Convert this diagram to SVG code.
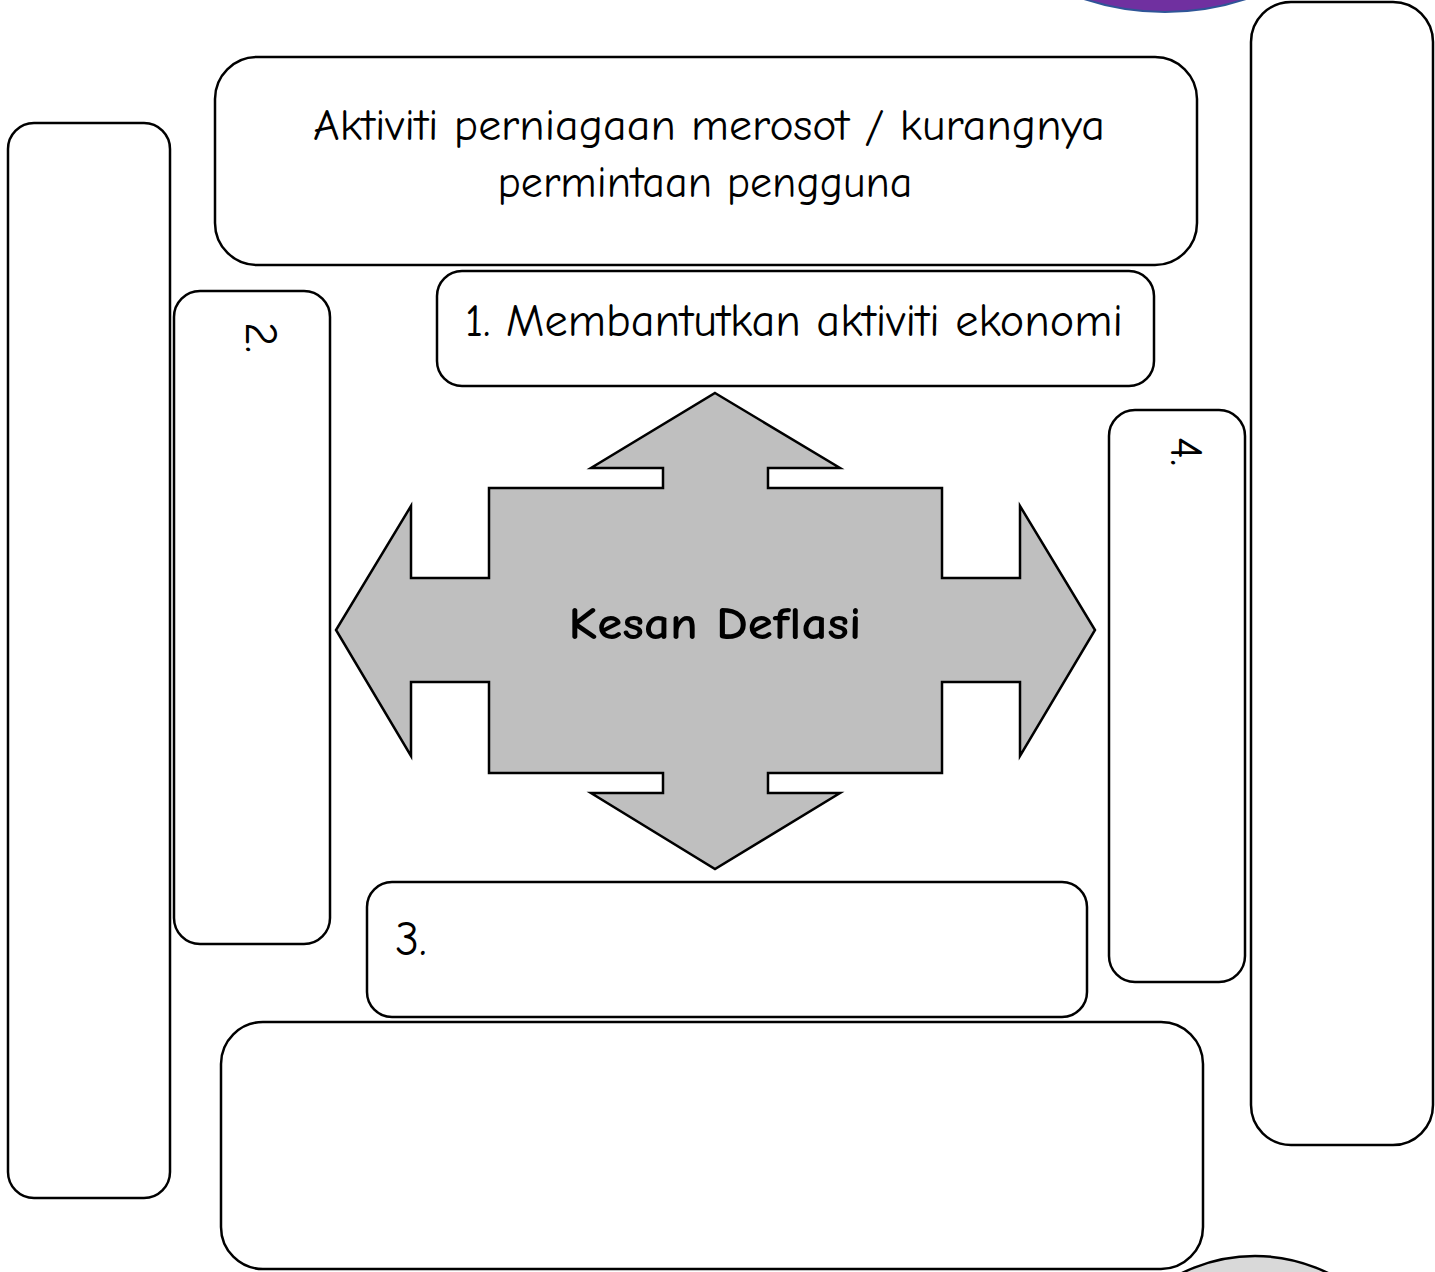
<svg xmlns="http://www.w3.org/2000/svg" width="1435" height="1272" viewBox="0 0 1435 1272">
<style>
.box{fill:#fff;stroke:#000;stroke-width:2.5}
.t{font-family:"Comic Sans MS","Comic Neue","DejaVu Sans",sans-serif;fill:#000}
</style>
<rect width="1435" height="1272" fill="#fff"/>
<g id="deco-top">
<circle cx="1165" cy="-247" r="259" fill="#7030A0" stroke="#2F5597" stroke-width="2"/>
</g>
<g id="deco-bottom">
<circle cx="1255" cy="1421" r="165" fill="#d9d9d9" stroke="#000" stroke-width="2.5"/>
</g>
<g id="box-left-tall"><rect class="box" x="8" y="123" width="162" height="1075" rx="26"/></g>
<g id="box-right-tall"><rect class="box" x="1251" y="2" width="182" height="1143" rx="40"/></g>
<g id="box-top">
<rect class="box" x="215" y="57" width="982" height="208" rx="42"/>
<text class="t" x="709" y="140" font-size="44" text-anchor="middle" textLength="792" lengthAdjust="spacingAndGlyphs">Aktiviti perniagaan merosot / kurangnya</text>
<text class="t" x="705" y="197" font-size="44" text-anchor="middle" textLength="415" lengthAdjust="spacingAndGlyphs">permintaan pengguna</text>
</g>
<g id="box-1">
<rect class="box" x="437" y="271" width="717" height="115" rx="25"/>
<text class="t" x="465" y="336" font-size="46" textLength="658" lengthAdjust="spacingAndGlyphs">1. Membantutkan aktiviti ekonomi</text>
</g>
<g id="box-2">
<rect class="box" x="174" y="291" width="156" height="653" rx="26"/>
<text class="t" font-size="46" transform="translate(246,322) rotate(90)">2.</text>
</g>
<g id="box-4">
<rect class="box" x="1109" y="410" width="136" height="572" rx="26"/>
<text class="t" font-size="46" transform="translate(1171,437) rotate(90)">4.</text>
</g>
<g id="box-3">
<rect class="box" x="367" y="882" width="720" height="135" rx="25"/>
<text class="t" x="395" y="955" font-size="48">3.</text>
</g>
<g id="box-bottom"><rect class="box" x="221" y="1022" width="982" height="247" rx="42"/></g>
<g id="center-cross">
<polygon points="715,393 840,468 768,468 768,488 942,488 942,578 1020,578 1020,506 1095,630 1020,756 1020,682 942,682 942,773 768,773 768,793 840,793 715,869 591,793 663,793 663,773 489,773 489,682 411,682 411,756 336,630 411,506 411,578 489,578 489,488 663,488 663,468 591,468" fill="#bfbfbf" stroke="#000" stroke-width="2.5" stroke-linejoin="miter"/>
<text class="t" x="715" y="639" font-size="46" font-weight="bold" text-anchor="middle" textLength="293" lengthAdjust="spacingAndGlyphs">Kesan Deflasi</text>
</g>
<g id="connectors"></g>
</svg>
